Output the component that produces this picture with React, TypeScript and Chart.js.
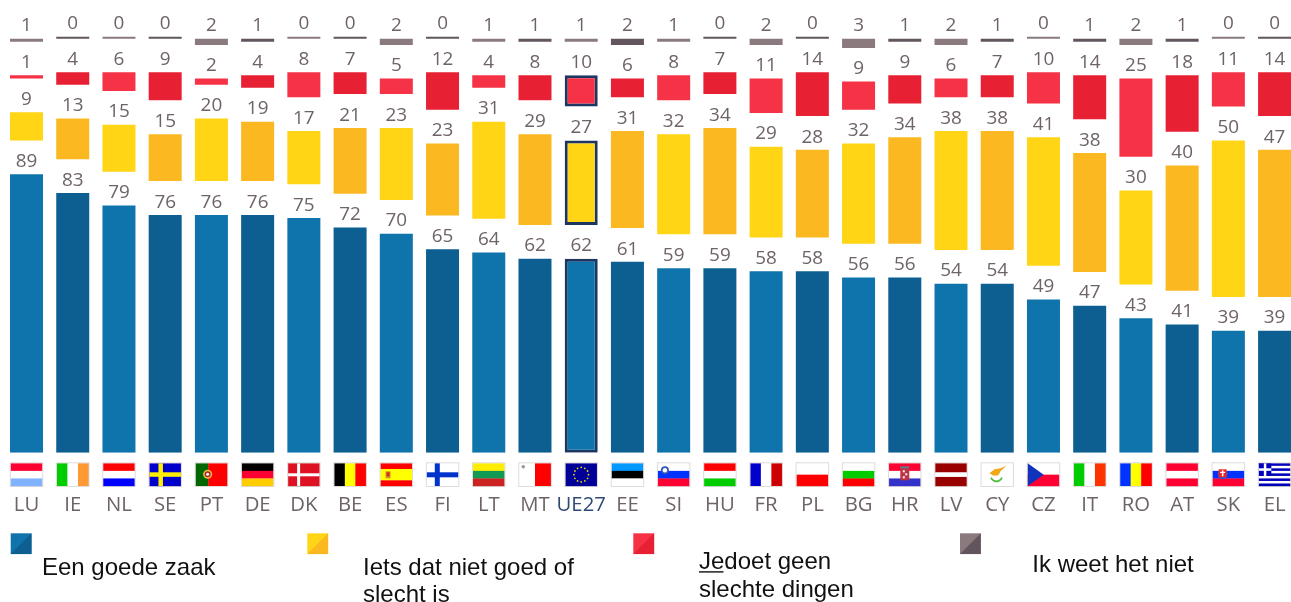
import React, { useEffect, useRef } from "react";
import { Chart, registerables } from "chart.js";

Chart.register(...registerables);

const countries = ["LU","IE","NL","SE","PT","DE","DK","BE","ES","FI","LT","MT","UE27","EE","SI","HU","FR","PL","BG","HR","LV","CY","CZ","IT","RO","AT","SK","EL"];
const goodThing = [89,83,79,76,76,76,75,72,70,65,64,62,62,61,59,59,58,58,56,56,54,54,49,47,43,41,39,39];
const neither = [9,13,15,15,20,19,17,21,23,23,31,29,27,31,32,34,29,28,32,34,38,38,41,38,30,40,50,47];
const badThing = [1,4,6,9,2,4,8,7,5,12,4,8,10,6,8,7,11,14,9,9,6,7,10,14,25,18,11,14];
const dontKnow = [1,0,0,0,2,1,0,0,2,0,1,1,1,2,1,0,2,0,3,1,2,1,0,1,2,1,0,0];

const legendLabels = [["Een goede zaak"],["Iets dat niet goed of","slecht is"],["Jedoet geen","slechte dingen"],["Ik weet het niet"]];

const GAP = 10.8;
const TOP = 132.3;
const UNITS = 452.8 / 3.13;
const NAVY = "#1D3561";
const TEXT = "#6E6367";
const palettes = [["#0F74AB","#0D5F91"],["#FFD516","#FBB820"],["#F53246","#E72034"],["#8B7A7D","#62555E"]];
const EU = 12;

const ranges = (kind: number) => goodThing.map((g, i) => {
  const n = neither[i], b = badThing[i], d = dontKnow[i];
  if (kind === 0) return [0, g];
  if (kind === 1) return [g + GAP, g + GAP + n];
  if (kind === 2) return [g + n + 2 * GAP, g + n + b + 2 * GAP];
  return [TOP - d, TOP];
});

type F = { d: "h" | "v"; c: string[]; w?: number[] };
const flags: Record<string, F> = {
  LU:{d:"h",c:["#FF0033","#FFFFFF","#80B3FF"]}, IE:{d:"v",c:["#00CC00","#FFFFFF","#FF9933"]},
  NL:{d:"h",c:["#FF0000","#FFFFFF","#0000FF"]}, SE:{d:"h",c:["#0000CC"]}, PT:{d:"v",c:["#006600","#FF0000"],w:[2,3]},
  DE:{d:"h",c:["#000000","#FF0033","#FFCC00"]}, DK:{d:"h",c:["#DD1122"]}, BE:{d:"v",c:["#000000","#FFFF00","#FF0000"]},
  ES:{d:"h",c:["#FF0000","#FFFF00","#FF0000"],w:[1,2,1]}, FI:{d:"h",c:["#FFFFFF"]}, LT:{d:"h",c:["#FFEE00","#119955","#CC2222"]},
  MT:{d:"v",c:["#FFFFFF","#FF0000"]}, UE27:{d:"h",c:["#000099"]}, EE:{d:"h",c:["#0099FF","#000000","#FFFFFF"]},
  SI:{d:"h",c:["#FFFFFF","#0033FF","#FF0033"]}, HU:{d:"h",c:["#FF0000","#FFFFFF","#00CC00"]}, FR:{d:"v",c:["#0000CC","#FFFFFF","#CC0000"]},
  PL:{d:"h",c:["#FFFFFF","#FF0000"]}, BG:{d:"h",c:["#FFFFFF","#00CC00","#FF0000"]}, HR:{d:"h",c:["#FF0033","#FFFFFF","#3333CC"]},
  LV:{d:"h",c:["#990000","#FFFFFF","#990000"],w:[2,1,2]}, CY:{d:"h",c:["#FFFFFF"]}, CZ:{d:"h",c:["#FFFFFF","#FF0033"]},
  IT:{d:"v",c:["#00CC00","#FFFFFF","#FF3300"]}, RO:{d:"v",c:["#0033FF","#FFFF00","#FF0000"]}, AT:{d:"h",c:["#FF0033","#FFFFFF","#FF0033"]},
  SK:{d:"h",c:["#FFFFFF","#0033FF","#FF0033"]}, EL:{d:"h",c:["#0000BB","#FFFFFF","#0000BB","#FFFFFF","#0000BB","#FFFFFF","#0000BB","#FFFFFF","#0000BB"]},
};

function drawFlag(ctx: CanvasRenderingContext2D, code: string, cx: number) {
  const W = 31.5, H = 22.7, x = cx - W / 2, y = 463.3;
  const f = flags[code];
  const total = (f.w || f.c.map(() => 1)).reduce((a, b) => a + b, 0);
  let pos = 0;
  f.c.forEach((col, i) => {
    const part = (f.w ? f.w[i] : 1) / total;
    ctx.fillStyle = col;
    if (f.d === "h") ctx.fillRect(x, y + pos * H, W, part * H + 0.3);
    else ctx.fillRect(x + pos * W, y, part * W + 0.3, H);
    pos += part;
  });
  const rect = (c: string, a: number, b: number, w: number, h: number) => { ctx.fillStyle = c; ctx.fillRect(x + a, y + b, w, h); };
  const dot = (c: string, a: number, b: number, r: number) => { ctx.fillStyle = c; ctx.beginPath(); ctx.arc(x + a, y + b, r, 0, Math.PI * 2); ctx.fill(); };
  if (code === "SE") { rect("#FFEE00", 9, 0, 4.5, H); rect("#FFEE00", 0, 9, W, 4.5); }
  if (code === "DK") { rect("#FFFFFF", 9, 0, 3, H); rect("#FFFFFF", 0, 10, W, 3); }
  if (code === "FI") { rect("#0033CC", 8, 0, 5, H); rect("#0033CC", 0, 9, W, 5); }
  if (code === "PT") { dot("#E8C040", 12, 11, 4.5); dot("#AA2222", 12, 11, 3); dot("#FFFFFF", 12, 11, 1.5); }
  if (code === "ES") { rect("#D8902A", 5, 8, 5, 7); rect("#CC3322", 6, 9, 3, 4); }
  if (code === "MT") { dot("#999999", 4, 3.5, 1.8); }
  if (code === "UE27") for (let i = 0; i < 12; i++) { const a = (i * Math.PI) / 6; dot("#E8D800", W / 2 + 7.3 * Math.cos(a), H / 2 + 7.3 * Math.sin(a), 0.9); }
  if (code === "SI") { dot("#3355BB", 7, 7, 4); dot("#FFFFFF", 7, 7, 2.2); }
  if (code === "HR") { rect("#BB3344", W / 2 - 4.5, 4, 9, 13); rect("#FFFFFF", W / 2 - 2, 7, 2, 2); rect("#FFFFFF", W / 2 + 0.5, 10, 2, 2); rect("#FFFFFF", W / 2 - 2, 13, 2, 2); rect("#667788", W / 2 - 4.5, 3, 9, 2); }
  if (code === "CZ") { ctx.fillStyle = "#1133BB"; ctx.beginPath(); ctx.moveTo(x, y); ctx.lineTo(x + 16, y + H / 2); ctx.lineTo(x, y + H); ctx.closePath(); ctx.fill(); }
  if (code === "CY") {
    ctx.fillStyle = "#F0A818"; ctx.beginPath(); ctx.moveTo(x + 8, y + 10); ctx.lineTo(x + 13, y + 6); ctx.lineTo(x + 19, y + 5); ctx.lineTo(x + 25, y + 2.5); ctx.lineTo(x + 19, y + 8); ctx.lineTo(x + 17, y + 12); ctx.lineTo(x + 12, y + 12.5); ctx.closePath(); ctx.fill();
    ctx.strokeStyle = "#55BB44"; ctx.lineWidth = 1.8; ctx.beginPath(); ctx.arc(x + 15, y + 12, 6, 0.4, Math.PI - 0.4); ctx.stroke();
  }
  if (code === "SK") { dot("#3355CC", 10, 11, 5); rect("#FFFFFF", 5.5, 5, 9, 2); rect("#EE2222", 6, 6, 8, 8); rect("#FFFFFF", 9.3, 7, 1.5, 6); rect("#FFFFFF", 7.5, 8.5, 5, 1.2); }
  if (code === "EL") { rect("#0000BB", 0, 0, 12.5, 12.6); rect("#FFFFFF", 5, 0, 2.5, 12.6); rect("#FFFFFF", 0, 5, 12.5, 2.5); }
  ctx.strokeStyle = "rgba(200,190,190,0.55)"; ctx.lineWidth = 1;
  ctx.strokeRect(x - 0.5, y - 0.5, W + 1, H + 1);
}

const marksPlugin = {
  id: "marks",
  afterDraw(chart: any) {
    const ctx: CanvasRenderingContext2D = chart.ctx;
    ctx.save();
    chart.data.datasets.forEach((ds: any, di: number) => {
      const meta = chart.getDatasetMeta(di);
      ctx.font = '18.9px "Open Sans"';
      ctx.fillStyle = TEXT;
      ctx.textAlign = "center";
      ctx.textBaseline = "alphabetic";
      meta.data.forEach((el: any, i: number) => {
        ctx.fillText(String(ds.shown[i]), el.x, Math.min(el.y, el.base) - 7.3);
      });
    });
    countries.forEach((c, i) => drawFlag(ctx, c, chart.scales.x.getPixelForValue(i)));

    const swatchX = [10.7, 307.3, 633.3, 960];
    swatchX.forEach((sx, k) => {
      const s = 20.8, sy = 533.3;
      ctx.fillStyle = palettes[k][0];
      ctx.fillRect(sx, sy, s, s);
      ctx.fillStyle = palettes[k][1];
      ctx.beginPath(); ctx.moveTo(sx + s, sy); ctx.lineTo(sx + s, sy + s); ctx.lineTo(sx, sy + s); ctx.closePath(); ctx.fill();
    });
    ctx.font = '24px "Liberation Sans"';
    ctx.fillStyle = "#111111";
    ctx.textAlign = "left";
    const at = [[42, 575], [363, 575], [699, 569.3], [1032.3, 571.7]];
    legendLabels.forEach((lines, k) => lines.forEach((t, j) => ctx.fillText(t, at[k][0], at[k][1] + j * 27.4)));
    ctx.fillRect(699, 571.2, 24.5, 1.4);
    ctx.restore();
  },
};

const names = ["Een goede zaak", "Iets dat niet goed of slecht is", "Je doet geen slechte dingen", "Ik weet het niet"];
const shownValues = [goodThing, neither, badThing, dontKnow];

export default function App() {
  const ref = useRef<HTMLCanvasElement>(null);
  useEffect(() => {
    const chart = new Chart(ref.current!, {
      type: "bar",
      data: {
        labels: countries,
        datasets: names.map((label, k) => ({
          label,
          data: ranges(k),
          shown: shownValues[k],
          grouped: false,
          barPercentage: 1,
          categoryPercentage: 0.714,
          minBarLength: k === 3 ? 2 : 0,
          backgroundColor: (c: any) => palettes[k][c.dataIndex % 2],
          borderColor: (c: any) => (c.dataIndex === EU && k < 3 ? NAVY : "rgba(0,0,0,0)"),
          borderWidth: (c: any) => (c.dataIndex === EU && k < 3 ? 3 : 0),
          borderSkipped: false,
        })) as any,
      },
      options: {
        animation: false,
        responsive: false,
        devicePixelRatio: 1,
        layout: { padding: { left: 3.4, right: 0.3, top: 0, bottom: 0 } },
        plugins: { legend: { display: false }, tooltip: { enabled: false } },
        scales: {
          y: { display: false, min: 0, max: UNITS },
          x: {
            afterFit: (s: any) => { s.height = 602 - 452.8; s.paddingLeft = 0; s.paddingRight = 0; },
            grid: { display: false },
            border: { display: false },
            ticks: {
              autoSkip: false,
              maxRotation: 0,
              padding: 32,
              font: { family: '"Open Sans"', size: 20.3 },
              color: (c: any) => (c.index === EU ? "#2F4A75" : TEXT),
            },
          },
        },
      } as any,
      plugins: [marksPlugin],
    });
    return () => chart.destroy();
  }, []);
  return (
    <div style={{ position: "absolute", left: 0, top: 0, width: 1291, height: 602, overflow: "hidden", background: "#fff" }}>
      <canvas ref={ref} width={1298} height={602} style={{ display: "block" }} />
    </div>
  );
}
